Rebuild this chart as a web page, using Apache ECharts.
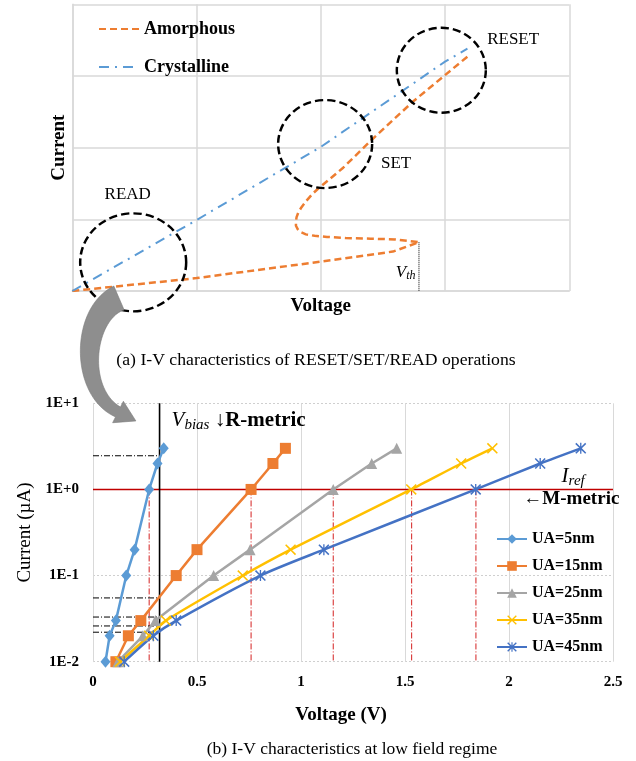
<!DOCTYPE html>
<html><head><meta charset="utf-8">
<script src="https://cdn.jsdelivr.net/npm/echarts@6/dist/echarts.min.js"></script>
<style>html,body{margin:0;padding:0;background:#fff}#c{width:636px;height:761px}</style>
</head><body><div id="c"></div>
<script>
// ---------- (a) schematic I-V ----------
const amorphousV = [0, 1, 2, 2.58, 2.79, 2.6, 2.4, 2.2, 2.05, 1.95, 1.88, 1.84, 1.815, 1.80, 1.80, 1.805, 1.82, 1.845, 1.88, 1.93, 1.98, 2.05, 2.18, 2.41, 2.74, 3.18];
const amorphousI = [0, 0.18, 0.41, 0.55, 0.68, 0.72, 0.73, 0.74, 0.755, 0.77, 0.79, 0.82, 0.86, 0.91, 0.97, 1.03, 1.10, 1.17, 1.25, 1.35, 1.43, 1.53, 1.72, 2.11, 2.64, 3.27];
const crystallineV = [0, 1, 2, 3, 3.18];
const crystallineI = [0, 0.99, 2.01, 3.2, 3.38];
const vth = 2.79;
const vthI = 0.68;
const opNames = ['READ', 'SET', 'RESET'];
const opCenterV = [0.49, 2.035, 2.97];
const opCenterI = [0.40, 2.05, 3.08];

// ---------- (b) low-field I-V ----------
const currentLevels = [0.01, 0.02, 0.03, 0.1, 0.2, 1, 2, 3];
const voltageUA5  = [0.06, 0.08, 0.11, 0.16, 0.20, 0.27, 0.31, 0.34];
const voltageUA15 = [0.11, 0.17, 0.23, 0.40, 0.50, 0.76, 0.865, 0.925];
const voltageUA25 = [0.12, 0.24, 0.30, 0.58, 0.755, 1.155, 1.34, 1.46];
const voltageUA35 = [0.13, 0.27, 0.35, 0.72, 0.95, 1.53, 1.77, 1.92];
const voltageUA45 = [0.15, 0.29, 0.40, 0.805, 1.11, 1.84, 2.15, 2.345];
const seriesNames = ['UA=5nm', 'UA=15nm', 'UA=25nm', 'UA=35nm', 'UA=45nm'];
const vBias = 0.32;
const biasCurrents = [2.46, 0.055, 0.033, 0.026, 0.022];
const iRef = 1;
const crossVoltages = [0.27, 0.76, 1.155, 1.532, 1.841];
const yTicks = ['1E-2', '1E-1', '1E+0', '1E+1'];
const xTicks = ['0', '0.5', '1', '1.5', '2', '2.5'];

const SERIF = '"Liberation Serif", "Times New Roman", serif';
const colors = ['#5B9BD5', '#ED7D31', '#A5A5A5', '#FFC000', '#4472C4'];
const xMark = 'path://M1,0L5,4L9,0L10,1L6,5L10,9L9,10L5,6L1,10L0,9L4,5L0,1Z';
const starMark = 'path://M1,0L5,4L9,0L10,1L6,5L10,9L9,10L5,6L1,10L0,9L4,5L0,1Z M4.4,0H5.6V10H4.4Z';
const symbols = ['diamond', 'rect', 'triangle', xMark, starMark];
const symSizes = [[10, 12], 11, 11, 11, 11];
const volts = [voltageUA5, voltageUA15, voltageUA25, voltageUA35, voltageUA45];

const zip = (a, b) => a.map((v, i) => [v, b[i]]);

// decorative curved arrow (schematic connector)
function arrowPoints() {
  const P = [[119, 298], [82, 314], [78, 392], [118, 412]];
  const L = [], R = [];
  const N = 40;
  for (let k = 0; k <= N; k++) {
    const t = k / N, u = 1 - t;
    const x = u*u*u*P[0][0] + 3*u*u*t*P[1][0] + 3*u*t*t*P[2][0] + t*t*t*P[3][0];
    const y = u*u*u*P[0][1] + 3*u*u*t*P[1][1] + 3*u*t*t*P[2][1] + t*t*t*P[3][1];
    const dx = 3*u*u*(P[1][0]-P[0][0]) + 6*u*t*(P[2][0]-P[1][0]) + 3*t*t*(P[3][0]-P[2][0]);
    const dy = 3*u*u*(P[1][1]-P[0][1]) + 6*u*t*(P[2][1]-P[1][1]) + 3*t*t*(P[3][1]-P[2][1]);
    const len = Math.hypot(dx, dy), nx = -dy/len, ny = dx/len;
    const w = (26*(1-t) + 11*t) / 2;
    L.push([x + nx*w, y + ny*w]); R.push([x - nx*w, y - ny*w]);
  }
  const e = P[3];
  const dx = P[3][0]-P[2][0], dy = P[3][1]-P[2][1], len = Math.hypot(dx, dy);
  const d = [dx/len, dy/len], n = [-d[1], d[0]];
  const pts = L.slice();
  pts.push([e[0] + n[0]*12, e[1] + n[1]*12]);
  pts.push([e[0] + d[0]*20, e[1] + d[1]*20]);
  pts.push([e[0] - n[0]*12, e[1] - n[1]*12]);
  return pts.concat(R.reverse());
}

const chart = echarts.init(document.getElementById('c'), null, {renderer: 'canvas'});

const bottomSeries = [];
bottomSeries.push({
  type: 'line', xAxisIndex: 1, yAxisIndex: 1, silent: true, symbol: 'none', z: 1,
  data: [[0, iRef], [2.5, iRef]],
  lineStyle: {color: '#C00000', width: 1.6}
});
crossVoltages.forEach(v => bottomSeries.push({
  type: 'line', xAxisIndex: 1, yAxisIndex: 1, silent: true, symbol: 'none', z: 1,
  data: [[v, iRef], [v, 0.01]],
  lineStyle: {color: '#D42020', width: 1, type: [6, 2, 1, 2]}
}));
biasCurrents.forEach(c => bottomSeries.push({
  type: 'line', xAxisIndex: 1, yAxisIndex: 1, silent: true, symbol: 'none', z: 1,
  data: [[0, c], [vBias, c]],
  lineStyle: {color: '#000', width: 1, type: [6, 2, 1, 2]}
}));
bottomSeries.push({
  type: 'line', xAxisIndex: 1, yAxisIndex: 1, silent: true, symbol: 'none', z: 1,
  data: [[vBias, 0.01], [vBias, 10]],
  lineStyle: {color: '#000', width: 1.6}
});
seriesNames.forEach((name, i) => bottomSeries.push({
  name, type: 'line', xAxisIndex: 1, yAxisIndex: 1, z: 3,
  data: zip(volts[i], currentLevels),
  smooth: i >= 3 ? 0.25 : false,
  symbol: symbols[i], symbolSize: symSizes[i], showSymbol: true,
  lineStyle: {color: colors[i], width: 2.5},
  itemStyle: {color: colors[i]}
}));
bottomSeries.push({
  type: 'scatter', xAxisIndex: 1, yAxisIndex: 1, silent: true, symbolSize: 0, z: 5,
  itemStyle: {opacity: 1, color: '#000'},
  label: {show: true, position: 'right', distance: 0, color: '#000'},
  data: [
    {value: [0.378, 6.3], label: {formatter: '{v|V}{s|bias}{b| \u2193R-metric}', rich: {
      v: {fontFamily: SERIF, fontStyle: 'italic', fontSize: 21, color: '#000'},
      s: {fontFamily: SERIF, fontStyle: 'italic', fontSize: 15, color: '#000', padding: [8, 0, 0, 0]},
      b: {fontFamily: SERIF, fontWeight: 'bold', fontSize: 21, color: '#000'}}}},
    {value: [2.253, 1.41], label: {formatter: '{v|I}{s|ref}', rich: {
      v: {fontFamily: SERIF, fontStyle: 'italic', fontSize: 21, color: '#000'},
      s: {fontFamily: SERIF, fontStyle: 'italic', fontSize: 15, color: '#000', padding: [8, 0, 0, 0]}}}},
    {value: [2.069, 0.773], label: {formatter: '\u2190M-metric', fontFamily: SERIF, fontWeight: 'bold', fontSize: 19, color: '#000'}}
  ]
});

const topSeries = [
  {
    name: 'Amorphous', type: 'line', xAxisIndex: 0, yAxisIndex: 0, symbol: 'none', z: 3,
    data: zip(amorphousV, amorphousI),
    lineStyle: {color: '#ED7D31', width: 2.5, type: [7, 4]},
    itemStyle: {color: '#ED7D31'}
  },
  {
    name: 'Crystalline', type: 'line', xAxisIndex: 0, yAxisIndex: 0, symbol: 'none', z: 3,
    data: zip(crystallineV, crystallineI),
    lineStyle: {color: '#5B9BD5', width: 2, type: [10, 6, 2, 6]},
    itemStyle: {color: '#5B9BD5'}
  },
  {
    type: 'line', xAxisIndex: 0, yAxisIndex: 0, symbol: 'none', silent: true, z: 2,
    data: [[vth, vthI], [vth, 0]],
    lineStyle: {color: '#000', width: 1, type: [1, 1]}
  },
  {
    type: 'scatter', xAxisIndex: 0, yAxisIndex: 0, silent: true, z: 4,
    symbol: 'circle',
    data: [
      {value: [opCenterV[0], opCenterI[0]], symbolSize: [106, 98]},
      {value: [opCenterV[1], opCenterI[1]], symbolSize: [94, 88]},
      {value: [opCenterV[2], opCenterI[2]], symbolSize: [89, 85]}
    ],
    itemStyle: {opacity: 1, color: 'rgba(0,0,0,0)', borderColor: '#000', borderWidth: 2.4, borderType: [8, 4]}
  },
  {
    type: 'scatter', xAxisIndex: 0, yAxisIndex: 0, silent: true, z: 5, symbolSize: 0,
    itemStyle: {opacity: 1, color: '#000'},
    label: {show: true, position: 'right', distance: 0, align: 'center', verticalAlign: 'middle',
      fontFamily: SERIF, fontSize: 17, color: '#000'},
    data: [
      {value: [0.446, 1.34], label: {formatter: opNames[0]}},
      {value: [2.606, 1.78], label: {formatter: opNames[1]}},
      {value: [3.548, 3.51], label: {formatter: opNames[2]}},
      {value: [2.683, 0.255], label: {formatter: '{v|V}{s|th}', rich: {
        v: {fontFamily: SERIF, fontStyle: 'italic', fontSize: 17, color: '#000'},
        s: {fontFamily: SERIF, fontStyle: 'italic', fontSize: 12, color: '#000', padding: [7, 0, 0, 0]}}}}
    ]
  }
];

const option = {
  animation: false,
  backgroundColor: '#fff',
  textStyle: {fontFamily: SERIF},
  grid: [
    {left: 72.3, right: 66.7, top: 4.3, bottom: 470, outerBoundsMode: 'none', containLabel: false},
    {left: 93, right: 23, top: 403.3, bottom: 99.3, outerBoundsMode: 'none', containLabel: false}
  ],
  xAxis: [
    {
      gridIndex: 0, type: 'value', min: 0, max: 4, interval: 1,
      name: 'Voltage', nameLocation: 'middle', nameGap: 6,
      nameTextStyle: {fontFamily: SERIF, fontWeight: 'bold', fontSize: 19, color: '#000'},
      axisLine: {show: true, lineStyle: {color: '#d9d9d9', width: 1.5}},
      axisTick: {show: false}, axisLabel: {show: false},
      splitLine: {show: true, lineStyle: {color: '#d9d9d9', width: 1.5}}
    },
    {
      gridIndex: 1, type: 'value', min: 0, max: 2.5, interval: 0.5,
      name: 'Voltage (V)', nameLocation: 'middle', nameGap: 44,
      nameTextStyle: {fontFamily: SERIF, fontWeight: 'bold', fontSize: 19, color: '#000', padding: [0, 24, 0, 0]},
      axisLine: {show: false},
      axisTick: {show: false},
      axisLabel: {show: true, margin: 13, fontFamily: SERIF, fontWeight: 'bold', fontSize: 15, color: '#000',
        formatter: (v) => xTicks[Math.round(v / 0.5)]},
      splitLine: {show: true, lineStyle: {color: '#d9d9d9', width: 1}}
    }
  ],
  yAxis: [
    {
      gridIndex: 0, type: 'value', min: 0, max: 4, interval: 1,
      name: 'Current', nameLocation: 'middle', nameGap: 4, nameRotate: 90,
      nameTextStyle: {fontFamily: SERIF, fontWeight: 'bold', fontSize: 19, color: '#000'},
      axisLine: {show: true, lineStyle: {color: '#d9d9d9', width: 1.5}},
      axisTick: {show: false}, axisLabel: {show: false},
      splitLine: {show: true, lineStyle: {color: '#d9d9d9', width: 1.5}}
    },
    {
      gridIndex: 1, type: 'log', logBase: 10, min: 0.01, max: 10,
      name: 'Current (\u00B5A)', nameLocation: 'middle', nameGap: 58, nameRotate: 90,
      nameTextStyle: {fontFamily: SERIF, fontSize: 19, color: '#000'},
      axisLine: {show: true, lineStyle: {color: '#d9d9d9', width: 1}},
      axisTick: {show: false},
      axisLabel: {show: true, margin: 14, fontFamily: SERIF, fontWeight: 'bold', fontSize: 15, color: '#000',
        formatter: (v) => yTicks[Math.round(Math.log10(v)) + 2]},
      splitLine: {show: true, lineStyle: {color: '#cfcfcf', width: 1, type: [2, 2]}}
    }
  ],
  legend: [
    {
      data: ['Amorphous', 'Crystalline'], orient: 'vertical', left: 98, top: 19, padding: 0,
      itemWidth: 40, itemHeight: 14, itemGap: 18,
      itemStyle: {opacity: 0},
      textStyle: {fontFamily: SERIF, fontWeight: 'bold', fontSize: 18, color: '#000', lineHeight: 20},
      selectedMode: false
    },
    {
      data: seriesNames, orient: 'vertical', left: 496, top: 530, padding: 0,
      itemWidth: 30, itemHeight: 12, itemGap: 9,
      textStyle: {fontFamily: SERIF, fontWeight: 'bold', fontSize: 16, color: '#000', lineHeight: 18},
      selectedMode: false
    }
  ],
  graphic: [
    {type: 'polygon', shape: {points: arrowPoints()}, style: {fill: '#8e8e8e', stroke: '#7a7a7a', lineWidth: 0.6}, z: 10},
    {type: 'text', x: 316, y: 360, style: {text: '(a) I-V characteristics of RESET/SET/READ operations',
      font: '17.7px ' + SERIF, fill: '#000', align: 'center', verticalAlign: 'middle'}},
    {type: 'text', x: 352, y: 749, style: {text: '(b) I-V characteristics at low field regime',
      font: '17.5px ' + SERIF, fill: '#000', align: 'center', verticalAlign: 'middle'}}
  ],
  series: topSeries.concat(bottomSeries)
};
chart.setOption(option);
</script>
</body></html>
